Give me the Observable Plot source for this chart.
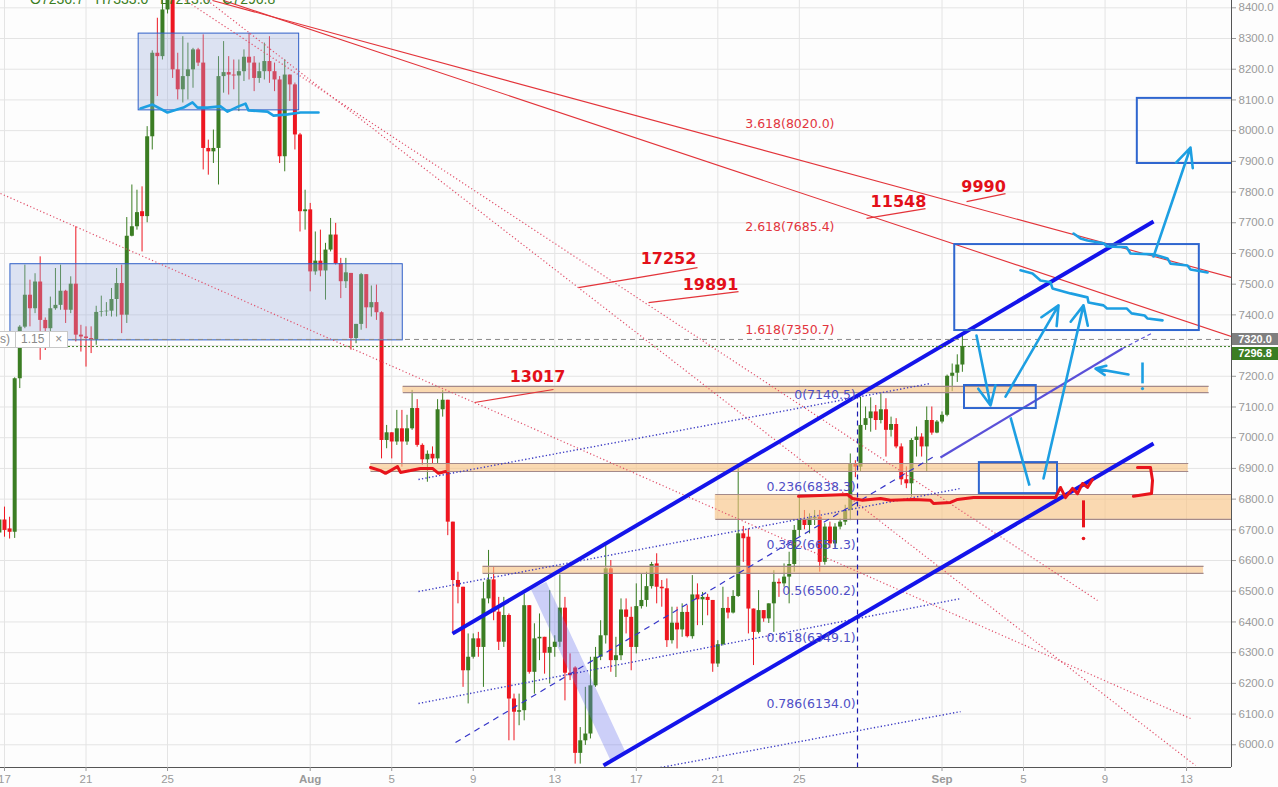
<!DOCTYPE html>
<html><head><meta charset="utf-8">
<script src="https://cdn.jsdelivr.net/npm/d3@7"></script>
<script src="https://cdn.jsdelivr.net/npm/@observablehq/plot@0.6"></script>
<style>
body{margin:0;background:#fdfdfd;}
#wrap{position:relative;width:1278px;height:787px;overflow:hidden;font-family:"Liberation Sans",Arial,sans-serif;}
.badge{position:absolute;left:1232px;width:46px;height:12px;color:#fff;font:bold 11px "Liberation Sans",Arial,sans-serif;line-height:12px;text-align:center;overflow:hidden;}
#hdr{position:absolute;left:30px;top:-9px;color:#3b7d23;font:14px "Liberation Sans",Arial,sans-serif;white-space:pre;}
#mult{position:absolute;left:-6px;top:331px;height:15px;border:1px solid #c8c8c8;background:#fff;color:#8a8a8a;font:12px "Liberation Sans",Arial,sans-serif;line-height:15px;display:flex;}
#mult span{padding:0 5px;border-left:1px solid #c8c8c8;}
#mult span:first-child{border-left:none;}
</style></head><body><div id="wrap"></div><script>
// ---------- axis ticks ----------
const xTickDates = ["2018-07-17","2018-07-21","2018-07-25","2018-08-01","2018-08-05","2018-08-09","2018-08-13","2018-08-17","2018-08-21","2018-08-25","2018-09-01","2018-09-05","2018-09-09","2018-09-13"];
const xTickLabels = ["17","21","25","Aug","5","9","13","17","21","25","Sep","5","9","13"];
const yTickValues = [6000,6100,6200,6300,6400,6500,6600,6700,6800,6900,7000,7100,7200,7300,7400,7500,7600,7700,7800,7900,8000,8100,8200,8300,8400];
const yHiddenLabel = 7300; // covered by the price badges
const xDomainEnds = ["07-16T19:18","09-15T04:54"];
const yDomainEnds = [5926, 8423.8];

// ---------- 6-hour candles, first at 2018-07-16 18:00 UTC ----------
const firstCandle = "2018-07-16T18:00:00Z";
const opens = [6690,6732,6703,6692,7192,7360,7464,7420,7507,7382,7355,7420,7431,7477,7415,7500,7334,7328,7323,7318,7408,7410,7412,7450,7502,7399,7656,7687,7736,7720,7980,8252,8241,8393,8480,8198,8133,8176,8198,8263,8220,7942,7931,7942,8176,8189,8181,8178,8192,8239,8220,8170,8192,8225,8192,8165,7915,8181,8149,7986,7736,7742,7540,7575,7543,7611,7660,7567,7508,7535,7323,7369,7531,7423,7440,7407,6991,7016,6986,7029,6986,7029,7095,6975,6928,6946,6931,7091,7122,6725,6535,6513,6241,6285,6345,6317,6475,6537,6432,6334,6421,6149,6106,6111,6453,6236,6345,6350,6298,6317,6334,6445,6233,6250,5972,6013,6035,6192,6285,6355,6573,6274,6290,6439,6415,6317,6450,6470,6515,6589,6513,6508,6339,6396,6374,6431,6352,6488,6472,6480,6470,6263,6326,6444,6429,6483,6687,6676,6442,6366,6437,6410,6459,6529,6524,6546,6587,6698,6733,6714,6736,6741,6594,6709,6654,6709,6725,6763,6913,6904,7040,7062,7084,7056,7091,7024,7043,6970,6863,6850,6991,7002,6970,7056,7015,7051,7073,7200,7210,7236.7];
const highs = [6745,6774,6741,7195,7365,7562,7513,7534,7589,7390,7458,7551,7562,7480,7524,7687,7366,7361,7361,7428,7461,7440,7486,7551,7562,7717,7823,7806,7817,8013,8260,8366,8440,8500,8507,8252,8306,8285,8268,8268,8312,7969,8002,8241,8290,8241,8230,8230,8263,8317,8241,8220,8285,8306,8220,8176,8231,8181,8155,7991,7806,7763,7670,7676,7633,7714,7698,7584,7584,7535,7369,7535,7531,7494,7497,7410,7040,7016,7089,7089,7073,7154,7124,6980,6957,6970,7124,7154,7122,6725,6562,6513,6361,6361,6366,6529,6633,6578,6480,6480,6426,6165,6165,6491,6453,6394,6426,6350,6502,6355,6553,6480,6296,6254,6056,6187,6285,6317,6404,6654,6600,6350,6475,6475,6448,6524,6556,6562,6594,6622,6535,6540,6448,6448,6459,6453,6551,6524,6496,6490,6470,6339,6513,6480,6502,6899,6711,6703,6442,6502,6437,6459,6567,6540,6589,6627,6714,6806,6763,6752,6763,6763,6720,6725,6720,6735,6780,6947,6925,7132,7100,7130,7105,7143,7127,7067,7062,6980,6905,6997,7035,7013,7100,7100,7056,7084,7204,7240,7270,7333];
const lows = [6650,6676,6670,6672,7160,7355,7361,7404,7252,7284,7339,7415,7415,7372,7404,7312,7279,7230,7274,7301,7393,7395,7393,7393,7339,7372,7654,7676,7605,7700,7937,8111,8230,8380,8170,8100,8090,8100,8138,8209,7872,7855,7893,7823,8122,8116,8133,8062,8160,8165,8127,8154,8165,8154,8127,7893,7866,8095,7937,7670,7676,7475,7529,7524,7448,7605,7562,7453,7486,7285,7306,7350,7355,7393,7382,6931,6964,6931,6975,6904,6975,7024,6969,6910,6855,6915,6915,7067,6681,6361,6459,6187,6133,6279,6285,6187,6459,6404,6307,6317,6013,6013,6062,6078,6230,6165,6274,6230,6198,6285,6317,6143,6209,5937,5937,5998,6019,6187,6274,6328,6236,6219,6274,6361,6241,6296,6442,6448,6507,6459,6448,6317,6328,6312,6350,6348,6344,6388,6388,6420,6236,6252,6322,6410,6426,6480,6594,6361,6258,6361,6399,6395,6366,6480,6513,6459,6562,6676,6700,6687,6714,6562,6585,6640,6640,6700,6714,6730,6870,6890,7024,7018,7024,7045,6937,7002,6964,6845,6834,6806,6937,6937,6888,7008,7013,7045,7068,7150,7180,7213];
const closes = [6732,6698,6692,7192,7360,7464,7420,7507,7382,7355,7420,7431,7477,7415,7500,7334,7328,7323,7318,7408,7410,7412,7450,7502,7399,7656,7687,7733,7720,7980,8252,8241,8393,8480,8198,8133,8176,8198,8263,8220,7942,7931,7942,8176,8189,8181,8178,8192,8239,8220,8170,8192,8225,8192,8165,7915,8181,8149,7986,7736,7742,7540,7575,7543,7611,7660,7567,7508,7537,7323,7369,7531,7423,7440,7407,6991,7016,6986,7029,6986,7029,7095,6975,6928,6946,6931,7091,7122,6725,6535,6513,6241,6285,6345,6317,6475,6537,6432,6334,6421,6149,6106,6111,6453,6236,6345,6350,6298,6317,6334,6445,6233,6225,5972,6013,6035,6192,6285,6355,6573,6274,6290,6439,6415,6317,6450,6470,6515,6587,6513,6508,6339,6396,6374,6431,6352,6488,6472,6480,6470,6263,6326,6444,6429,6483,6687,6671,6442,6366,6437,6410,6459,6529,6524,6546,6587,6698,6733,6714,6736,6741,6594,6709,6654,6709,6725,6763,6913,6904,7040,7062,7084,7056,7091,7024,7043,6970,6863,6850,6991,7002,6970,7056,7015,7051,7073,7200,7210,7236.7,7296.8];

// ---------- price lines ----------
const lastPrice = 7296.8;
const markedPrice = 7320.0;

// ---------- drawings (time "MM-DDTHH:MM" of 2018, price) ----------
const filledBoxes = [["07-23T14:00",8066,"07-31T11:00",8316],["07-17T07:00",7317,"08-05T13:00",7565]];
const outlineBoxes = [["09-01T15:00",7349,"09-13T15:00",7629],["09-02T02:30",7095,"09-05T15:00",7170],["09-02T20:00",6818,"09-06T16:00",6919],["09-10T14:00",7893,"09-16T12:00",8105]];
const zones = [["08-05T13:00",7147,"09-14T02:00",7167],["08-03T23:00",6890,"09-13T02:00",6916],["08-20T21:00",6734,"09-16T12:00",6815],["08-09T11:00",6558,"09-13T20:00",6581]];
const channelLines = [["08-07T23:36",6362,"09-11T09:06",7704],["08-15T09:24",5932.6,"09-11T09:06",6981]];
const midLine = [["08-31T22:12",6935.6,"09-09T20:36",7290.5]];
const midLineDashed = [["09-09T20:36",7290.5,"09-11T09:06",7343]];
const dottedBlue = [["08-06T07:30",6499,"09-01T21:48",6834.6],["08-06T07:30",6134.5,"09-01T21:48",6476],["08-06T07:30",6864,"08-31T10:30",7176.6],["08-18T04:30",5926,"09-01T21:48",6108]];
const dashedBlue = [["08-08T03:06",6007.5,"08-31T16:18",6942]];
const verticalDashed = [["08-27T20:30",5926,"08-27T20:30",7137.5]];
const shadedStroke = [["08-12T04:54",6518.8,"08-16T03:06",5958.7]];
const redTrend = [["07-27T04:54",8423.8,"09-15T04:54",7521.7],["07-27T17:54",8423.8,"09-15T04:54",7329.6]];
const redDotted = [["07-16T19:18",7795.3,"09-13T04:36",6085.6],["07-26T23:06",8423.8,"09-13T10:30",5932.6],["07-25T21:06",8423.8,"09-08T15:06",6469.9]];
const pointerLines = [["09-02T04:54",7769,"09-04T02:48",7795],["08-28T07:06",7714,"08-31T04:36",7746],["08-14T04:00",7489,"08-20T00:06",7554],["08-17T14:24",7440,"08-22T00:24",7476],["08-09T01:30",7114.7,"08-12T22:30",7157]];
const pointerLabels = ["9990","11548","17252","19891","13017"];
const pointerLabelPos = [["09-03T01:00",7818],["08-29T20:42",7769],["08-18T13:54",7584],["08-20T15:24",7499],["08-12T03:42",7199]];
const fibExtRatios = ["3.618","2.618","1.618"];
const fibExtPrices = [8020.0,7685.4,7350.7];
const fibExtAnchor = "08-26T17:24";
const fibRetRatios = ["0","0.236","0.382","0.5","0.618","0.786"];
const fibRetPrices = [7140.5,6838.3,6651.3,6500.2,6349.1,6134.0];
const fibRetAnchor = "08-27T18:24";

// hand-drawn strokes
const cyanWaveBox = [["07-23T16:12",8072],["07-24T06:18",8085],["07-24T23:54",8059],["07-25T18:48",8075],["07-26T05:24",8092],["07-26T11:18",8075],["07-26T23:06",8075],["07-27T14:24",8079],["07-27T22:36",8062],["07-28T11:36",8079],["07-28T19:48",8088],["07-28T23:18",8066],["07-29T21:42",8062],["07-30T04:48",8049],["07-30T21:18",8053],["07-31T12:36",8059],["08-01T09:48",8059]];
const cyanWaveLow = [["09-04T20:24",7545],["09-05T10:36",7535],["09-05T20:00",7512],["09-06T07:48",7506],["09-06T10:06",7486],["09-07T07:18",7470],["09-08T03:18",7457],["09-08T04:30",7440],["09-08T22:12",7431],["09-09T02:18",7421],["09-10T01:24",7421],["09-10T07:18",7405],["09-10T22:36",7398],["09-11T02:06",7388],["09-11T19:42",7382]];
const cyanWaveHigh = [["09-07T10:54",7665],["09-07T19:06",7649],["09-08T03:18",7642],["09-08T22:12",7633],["09-09T02:18",7623],["09-10T01:24",7620],["09-10T06:00",7600],["09-11T09:06",7597],["09-12T01:30",7584],["09-12T05:06",7567],["09-13T01:06",7561],["09-13T04:36",7548],["09-14T00:42",7538]];
const cyanArrows = [["09-02T16:36",7333,"09-03T09:12",7105],["09-04T02:48",7134,"09-06T17:12",7431],["09-05T23:30",6867,"09-07T22:36",7431],["09-10T03:36",7206,"09-08T12:48",7225],["09-11T09:06",7590,"09-13T04:36",7945]];
const cyanSegments = [["09-04T08:42",7066,"09-05T07:00",6844],["09-10T20:06",7245,"09-10T20:06",7177]];
const cyanDots = [["09-10T20:06",7160]];
const redWaveLeft = [["08-03T23:00",6903],["08-04T10:48",6893],["08-04T16:42",6884],["08-04T22:36",6893],["08-05T06:48",6906],["08-05T10:18",6887],["08-05T22:06",6893],["08-06T09:54",6900],["08-07T00:00",6900],["08-07T07:06",6884],["08-07T15:18",6890]];
const redWaveLong = [["08-24T23:00",6809],["08-26T00:54",6812],["08-27T08:42",6815],["08-27T14:36",6802],["08-28T02:24",6796],["08-28T23:36",6802],["08-29T11:24",6796],["08-30T14:24",6799],["08-31T10:30",6796],["08-31T14:00",6786],["09-01T10:00",6789],["09-01T18:18",6799],["09-02T13:06",6805],["09-04T05:06",6805],["09-05T20:00",6805],["09-06T13:42",6805],["09-06T19:30",6838],["09-07T01:24",6805],["09-07T09:42",6835],["09-07T15:36",6818],["09-07T21:30",6851],["09-08T03:18",6838],["09-08T09:12",6864]];
const redBracket = [["09-10T14:12",6903],["09-11T05:30",6903],["09-11T07:54",6861],["09-11T06:42",6818],["09-10T09:24",6809]];
const redMarkStem = [["09-07T22:36",6796,"09-07T22:36",6708]];
const redMarkDot = [["09-07T22:36",6672]];

// ---------- build tables ----------
const T = s => new Date("2018-" + s + ":00Z");
const segs = rows => rows.map(([a, p, b, q]) => ({x1: T(a), y1: p, x2: T(b), y2: q}));
const pts = (rows, id) => rows.map(([a, p]) => ({x: T(a), y: p, id}));
const t0 = Date.parse(firstCandle);
const candles = opens.map((o, i) => ({t: new Date(t0 + i * 6 * 3600e3), open: o, high: highs[i], low: lows[i], close: closes[i]}));
const GREEN = "#3b7d23", RED = "#ee1620";
const col = d => d.close >= d.open ? GREEN : RED;
const xLabel = new Map(xTickDates.map((d, i) => [+new Date(d + "T00:00:00Z"), xTickLabels[i]]));
const xTicks = xTickDates.map(d => new Date(d + "T00:00:00Z"));
const dayTicks = xTicks.filter(d => !isNaN(+xLabel.get(+d)));
const monthTicks = xTicks.filter(d => isNaN(+xLabel.get(+d)));
const yLabelTicks = yTickValues.filter(v => v !== yHiddenLabel);
const zoneEdges = segs(zones.flatMap(([a, p, b, q]) => [[a, p, b, p], [a, q, b, q]]));
const fibExt = fibExtRatios.map((r, i) => ({x: T(fibExtAnchor), y: fibExtPrices[i], label: `${r}(${fibExtPrices[i].toFixed(1)})`}));
const fibRet = fibRetRatios.map((r, i) => ({x: T(fibRetAnchor), y: fibRetPrices[i], label: `${r}(${fibRetPrices[i].toFixed(1)})`}));
const bigLabels = pointerLabels.map((s, i) => ({x: T(pointerLabelPos[i][0]), y: pointerLabelPos[i][1], label: s}));
const boxRect = rows => rows.map(([a, p, b, q]) => ({x1: T(a), y1: p, x2: T(b), y2: q}));
const CYAN = "#1d9fe2", HRED = "#e8141c";

const chart = Plot.plot({
  width: 1278, height: 787,
  marginLeft: 0, marginRight: 47, marginTop: 0, marginBottom: 20,
  x: {type: "utc", domain: xDomainEnds.map(T), axis: null},
  y: {domain: yDomainEnds, axis: null},
  style: {background: "#fdfdfd", fontFamily: "'Liberation Sans', Arial, sans-serif"},
  marks: [
    Plot.gridX({ticks: xTicks, stroke: "#e4e4e4", strokeOpacity: 1}),
    Plot.gridY({ticks: yTickValues, stroke: "#e4e4e4", strokeOpacity: 1}),
    // candles
    Plot.ruleX(candles, {x: "t", y1: "low", y2: "high", stroke: col, strokeWidth: 1}),
    Plot.ruleX(candles, {x: "t", y1: "open", y2: "close", stroke: col, strokeWidth: 4}),
    // boxes & zones
    Plot.rect(boxRect(filledBoxes), {x1: "x1", x2: "x2", y1: "y1", y2: "y2", fill: "#9fb0dc", fillOpacity: 0.35, stroke: "#2f5fc8", strokeWidth: 1, clip: true}),
    Plot.rect(boxRect(zones), {x1: "x1", x2: "x2", y1: "y1", y2: "y2", fill: "#f9c27f", fillOpacity: 0.6, clip: true}),
    Plot.link(zoneEdges, {x1: "x1", y1: "y1", x2: "x2", y2: "y2", stroke: "#a48a8a", strokeWidth: 1.2, clip: true}),
    // shaded diagonal
    Plot.link(segs(shadedStroke), {x1: "x1", y1: "y1", x2: "x2", y2: "y2", stroke: "#6f78ee", strokeOpacity: 0.35, strokeWidth: 17, clip: true}),
    // red trend lines
    Plot.link(segs(redTrend), {x1: "x1", y1: "y1", x2: "x2", y2: "y2", stroke: "#e3343a", strokeWidth: 1.1, clip: true}),
    Plot.link(segs(redDotted), {x1: "x1", y1: "y1", x2: "x2", y2: "y2", stroke: "#e0506a", strokeWidth: 1.2, strokeDasharray: "1.2,2.4", clip: true}),
    Plot.link(segs(pointerLines), {x1: "x1", y1: "y1", x2: "x2", y2: "y2", stroke: "#e3343a", strokeWidth: 1.2, clip: true}),
    // blue lines
    Plot.link(segs(dottedBlue), {x1: "x1", y1: "y1", x2: "x2", y2: "y2", stroke: "#3b3bc4", strokeWidth: 1.4, strokeDasharray: "1.3,2.2", clip: true}),
    Plot.link(segs(dashedBlue), {x1: "x1", y1: "y1", x2: "x2", y2: "y2", stroke: "#3535c8", strokeWidth: 1.2, strokeDasharray: "6,5", clip: true}),
    Plot.link(segs(verticalDashed), {x1: "x1", y1: "y1", x2: "x2", y2: "y2", stroke: "#1a1ab0", strokeWidth: 1.2, strokeDasharray: "5,4", clip: true}),
    Plot.link(segs(midLine), {x1: "x1", y1: "y1", x2: "x2", y2: "y2", stroke: "#5a50d8", strokeWidth: 2.2, clip: true}),
    Plot.link(segs(midLineDashed), {x1: "x1", y1: "y1", x2: "x2", y2: "y2", stroke: "#5a50d8", strokeWidth: 1.2, strokeDasharray: "4,3", clip: true}),
    Plot.link(segs(channelLines), {x1: "x1", y1: "y1", x2: "x2", y2: "y2", stroke: "#1414ea", strokeWidth: 4, clip: true}),
    Plot.rect(boxRect(outlineBoxes), {x1: "x1", x2: "x2", y1: "y1", y2: "y2", fill: "none", stroke: "#2f66cf", strokeWidth: 2, clip: true}),
    // price lines
    Plot.ruleY([markedPrice], {stroke: "#8a8a8a", strokeDasharray: "5,4", strokeWidth: 1}),
    Plot.ruleY([lastPrice], {stroke: GREEN, strokeDasharray: "2,2", strokeWidth: 1}),
    // hand-drawn
    Plot.line([...pts(cyanWaveBox, "a"), ...pts(cyanWaveLow, "b"), ...pts(cyanWaveHigh, "c")], {x: "x", y: "y", z: "id", stroke: CYAN, strokeWidth: 2.6, clip: true}),
    Plot.arrow(segs(cyanArrows), {x1: "x1", y1: "y1", x2: "x2", y2: "y2", stroke: CYAN, strokeWidth: 2.6, headLength: 12, headAngle: 50, clip: true}),
    Plot.link(segs(cyanSegments), {x1: "x1", y1: "y1", x2: "x2", y2: "y2", stroke: CYAN, strokeWidth: 2.6, clip: true}),
    Plot.dot(pts(cyanDots, "d"), {x: "x", y: "y", r: 1.6, fill: CYAN}),
    Plot.line([...pts(redWaveLeft, "a"), ...pts(redWaveLong, "b"), ...pts(redBracket, "c")], {x: "x", y: "y", z: "id", stroke: HRED, strokeWidth: 3, clip: true}),
    Plot.link(segs(redMarkStem), {x1: "x1", y1: "y1", x2: "x2", y2: "y2", stroke: HRED, strokeWidth: 3}),
    Plot.dot(pts(redMarkDot, "d"), {x: "x", y: "y", r: 1.8, fill: HRED}),
    // texts
    Plot.text(fibExt, {x: "x", y: "y", text: "label", textAnchor: "end", fill: "#e2353d", fontSize: 12.5, fontFamily: "'DejaVu Sans', sans-serif"}),
    Plot.text(fibRet, {x: "x", y: "y", text: "label", textAnchor: "end", fill: "#4f4fc6", fontSize: 12.5, fontFamily: "'DejaVu Sans', sans-serif"}),
    Plot.text(bigLabels, {x: "x", y: "y", text: "label", fill: "#e3101a", fontSize: 16, fontWeight: "bold", fontFamily: "'DejaVu Sans', sans-serif"}),
    // axes
    Plot.ruleX([T(xDomainEnds[1])], {stroke: "#555"}),
    Plot.ruleY([yDomainEnds[0]], {stroke: "#555"}),
    Plot.axisY({anchor: "right", ticks: yLabelTicks, tickFormat: d => d.toFixed(1), tickSize: 4, tickPadding: 3, fontSize: 11.5, color: "#9a9a9a"}),
    Plot.axisX({ticks: dayTicks, tickFormat: d => xLabel.get(+d), tickSize: 4, tickPadding: 3, fontSize: 11.5, color: "#9a9a9a"}),
    Plot.axisX({ticks: monthTicks, tickFormat: d => xLabel.get(+d), tickSize: 4, tickPadding: 3, fontSize: 11.5, fontWeight: "bold", color: "#9a9a9a"})
  ]
});
const wrap = document.getElementById("wrap");
wrap.appendChild(chart);
const ys = chart.scale("y");
const last = candles[candles.length - 1];
const hdr = document.createElement("div");
hdr.id = "hdr";
hdr.textContent = `O${last.open.toFixed(1)}   H${last.high.toFixed(1)}   L${last.low.toFixed(1)}   C${last.close.toFixed(1)}`;
wrap.appendChild(hdr);
const b1 = document.createElement("div");
b1.className = "badge"; b1.style.background = "#7f7f7f";
b1.style.top = (ys.apply(markedPrice) - 6) + "px";
b1.textContent = markedPrice.toFixed(1);
wrap.appendChild(b1);
const b2 = document.createElement("div");
b2.className = "badge"; b2.style.background = GREEN; b2.style.height = "13px"; b2.style.lineHeight = "13px";
b2.style.top = (ys.apply(markedPrice) + 8) + "px";
b2.textContent = lastPrice.toFixed(1);
wrap.appendChild(b2);
const m = document.createElement("div");
m.id = "mult";
m.innerHTML = "<span>s)</span><span>1.15</span><span>\u00d7</span>";
wrap.appendChild(m);
</script></body></html>
